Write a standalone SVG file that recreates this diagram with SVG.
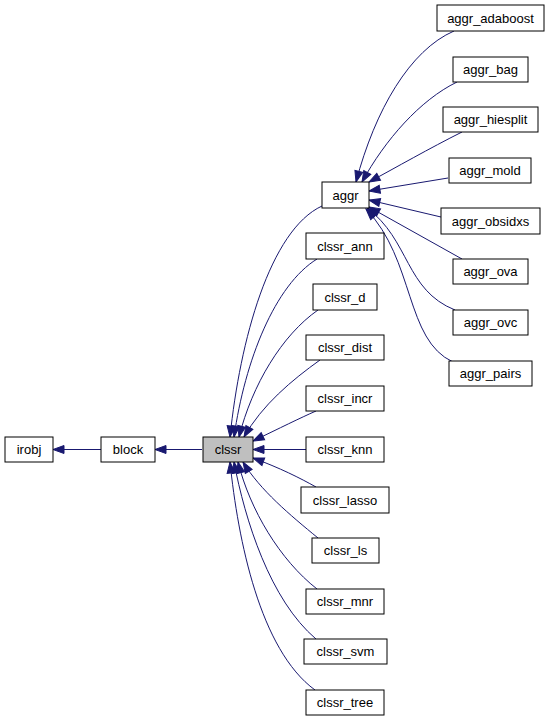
<svg xmlns="http://www.w3.org/2000/svg" width="549" height="721" viewBox="0 0 549 721">
<defs>
<marker id="ah" viewBox="-1 -1 13 10" markerWidth="13" markerHeight="10" refX="11" refY="4" orient="auto" markerUnits="userSpaceOnUse">
<path d="M0,0 L11,4 L0,8 Z" fill="#191970" stroke="#191970" stroke-width="1"/>
</marker>
<style>
.n rect{fill:#ffffff;stroke:#000000;stroke-width:1}
.n text{font-family:"Liberation Sans",Arial,sans-serif;font-size:13px;fill:#000000;text-anchor:middle}
#clssr rect{fill:#bfbfbf}
.e path{fill:none;stroke:#191970;stroke-width:1;marker-end:url(#ah)}
</style>
</defs>
<rect width="549" height="721" fill="#ffffff"/>
<g id="connectors" class="e">
<path d="M101,449.5 L53,449.5"/>
<path d="M202,449.5 L155,449.5"/>
<path d="M306,449.5 L253,449.5"/>
<path d="M322,206 C270,230 240,340 230,437"/>
<path d="M317,259 C275,285 245,360 234,437"/>
<path d="M318,310 C282,335 252,385 239,437"/>
<path d="M320,360 C292,380 262,405 244,437"/>
<path d="M316,411 C300,418 280,428 253,441"/>
<path d="M316,487 C300,478 280,468 253,458"/>
<path d="M318,538 C290,515 260,490 243,462"/>
<path d="M317,589 C280,560 250,510 238,462"/>
<path d="M316,639 C270,600 245,520 234,462"/>
<path d="M315,690 C260,650 238,540 230,462"/>
<path d="M454,31 C410,50 375,110 356,182"/>
<path d="M457,82 C420,100 385,140 362,182"/>
<path d="M462,132 C430,148 395,168 369,182"/>
<path d="M448,178 L369,191"/>
<path d="M441,217 L369,200"/>
<path d="M462,259 L369,207"/>
<path d="M455,310 C405,290 410,240 367,208"/>
<path d="M453,362 C405,340 415,260 366,209"/>
</g>
<g id="irobj" class="n"><rect x="5" y="437" width="48" height="25"/><text x="29" y="454">irobj</text></g>
<g id="block" class="n"><rect x="101" y="437" width="54" height="25"/><text x="128" y="454">block</text></g>
<g id="clssr" class="n"><rect x="203" y="437" width="50" height="25"/><text x="228" y="454">clssr</text></g>
<g id="aggr" class="n"><rect x="322" y="182" width="47" height="26"/><text x="345.5" y="199.5">aggr</text></g>
<g id="aggr_adaboost" class="n"><rect x="437" y="5" width="107" height="26"/><text x="490.5" y="22.5">aggr_adaboost</text></g>
<g id="aggr_bag" class="n"><rect x="453" y="57" width="75" height="25"/><text x="490.5" y="74">aggr_bag</text></g>
<g id="aggr_hiesplit" class="n"><rect x="443" y="107" width="95" height="25"/><text x="490.5" y="124">aggr_hiesplit</text></g>
<g id="aggr_mold" class="n"><rect x="449" y="158" width="82" height="25"/><text x="490" y="175">aggr_mold</text></g>
<g id="aggr_obsidxs" class="n"><rect x="441" y="208" width="99" height="26"/><text x="490.5" y="225.5">aggr_obsidxs</text></g>
<g id="aggr_ova" class="n"><rect x="453" y="259" width="75" height="25"/><text x="490.5" y="276">aggr_ova</text></g>
<g id="aggr_ovc" class="n"><rect x="453" y="310" width="75" height="25"/><text x="490.5" y="327">aggr_ovc</text></g>
<g id="aggr_pairs" class="n"><rect x="449" y="361" width="83" height="25"/><text x="490.5" y="378">aggr_pairs</text></g>
<g id="clssr_ann" class="n"><rect x="306" y="233" width="78" height="26"/><text x="345" y="250.5">clssr_ann</text></g>
<g id="clssr_d" class="n"><rect x="313" y="284" width="64" height="26"/><text x="345" y="301.5">clssr_d</text></g>
<g id="clssr_dist" class="n"><rect x="306" y="335" width="78" height="25"/><text x="345" y="352">clssr_dist</text></g>
<g id="clssr_incr" class="n"><rect x="306" y="386" width="78" height="25"/><text x="345" y="403">clssr_incr</text></g>
<g id="clssr_knn" class="n"><rect x="306" y="437" width="78" height="25"/><text x="345" y="454">clssr_knn</text></g>
<g id="clssr_lasso" class="n"><rect x="301" y="487" width="88" height="26"/><text x="345" y="504.5">clssr_lasso</text></g>
<g id="clssr_ls" class="n"><rect x="312" y="538" width="67" height="25"/><text x="345.5" y="555">clssr_ls</text></g>
<g id="clssr_mnr" class="n"><rect x="306" y="589" width="78" height="25"/><text x="345" y="606">clssr_mnr</text></g>
<g id="clssr_svm" class="n"><rect x="304" y="639" width="83" height="25"/><text x="345.5" y="656">clssr_svm</text></g>
<g id="clssr_tree" class="n"><rect x="306" y="690" width="78" height="25"/><text x="345" y="707">clssr_tree</text></g>
</svg>
